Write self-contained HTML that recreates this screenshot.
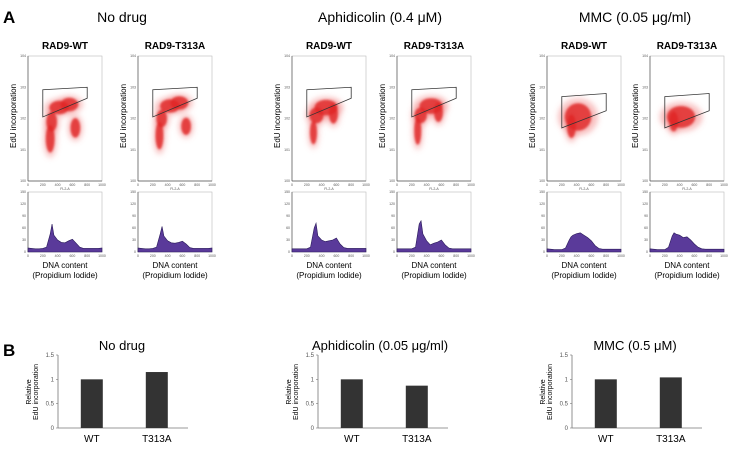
<!DOCTYPE html>
<html><head><meta charset="utf-8"><style>
html,body{margin:0;padding:0;background:#fff;width:730px;height:450px;overflow:hidden}
svg{display:block;font-family:"Liberation Sans",sans-serif}
</style></head><body>
<svg id="fig" width="730" height="450" viewBox="0 0 730 450">
<defs>
<filter id="blur" x="-50%" y="-50%" width="200%" height="200%"><feGaussianBlur stdDeviation="1.1"/></filter>
<filter id="halo" x="-80%" y="-80%" width="260%" height="260%"><feGaussianBlur stdDeviation="3"/></filter>
</defs>
<text x="3" y="23" font-size="17" font-weight="bold">A</text>
<text x="3" y="356" font-size="17" font-weight="bold">B</text>
</svg>
<script>
// ---------- Panel A data ----------
const groupTitles = ["No drug", "Aphidicolin (0.4 \u03bcM)", "MMC (0.05 \u03bcg/ml)"];
const sampleTitles = ["RAD9-WT", "RAD9-T313A"];
// cluster data per plot: [DNA content, log10 EdU, spreadDNA, spreadLog]
const clustersNoDrugWT = [[300,1.35,50,0.35],[320,1.9,60,0.25],[420,2.35,110,0.17],[560,2.45,100,0.17],[640,1.7,55,0.25]];
const clustersNoDrugT = [[290,1.45,45,0.35],[320,2.0,60,0.22],[430,2.4,110,0.17],[560,2.5,100,0.17],[650,1.75,55,0.22]];
const clustersAphWT = [[290,1.55,40,0.3],[330,2.1,80,0.2],[460,2.35,130,0.2],[560,2.15,50,0.25]];
const clustersAphT = [[280,1.6,40,0.35],[320,2.1,70,0.2],[460,2.4,130,0.2],[560,2.2,50,0.25]];
const clustersMmcWT = [[330,1.75,50,0.3],[420,2.05,150,0.35]];
const clustersMmcT = [[320,1.9,50,0.25],[420,2.05,160,0.28]];
// histogram bins: counts at DNA = 0,50,...,1000 (axis max 150)
const histDNA = [0,50,100,150,200,250,300,325,350,400,450,500,550,600,650,700,750,800,850,900,950,1000];
const histNoDrugWT = [10,9,8,8,9,12,45,70,42,30,24,23,28,32,22,12,9,9,9,9,9,10];
const histNoDrugT = [10,9,8,8,9,12,45,64,40,28,23,22,24,27,20,11,9,9,9,9,9,10];
const histAphWT = [8,8,8,8,8,12,60,72,40,30,26,28,30,35,20,11,9,9,9,9,9,9];
const histAphT = [8,8,8,8,8,12,70,78,45,28,18,22,25,30,18,10,8,8,8,8,8,8];
const histMmcWT = [8,7,6,6,6,10,30,38,42,46,48,42,36,28,16,9,7,7,7,7,7,7];
const histMmcT = [8,7,6,6,6,12,40,48,45,42,36,38,30,20,12,8,7,7,7,7,7,7];
// gates: [DNA, log10 EdU]
const gate = [[200,2.92],[800,3.0],[800,2.65],[200,2.05]];
const gateMmc = [[200,2.7],[800,2.8],[800,2.25],[200,1.7]];

// ---------- Panel B data ----------
const barTitles = ["No drug", "Aphidicolin (0.05 \u03bcg/ml)", "MMC (0.5 \u03bcM)"];
const barCategories = ["WT", "T313A"];
const barNoDrug = [1.0, 1.15];
const barAph = [1.0, 0.87];
const barMmc = [1.0, 1.04];
const barTicks = [0, 0.5, 1, 1.5];
const barTickLabels = ["0", "0.5", "1", "1.5"];

const NS = "http://www.w3.org/2000/svg";
const svg = document.getElementById("fig");
function mk(tag, attrs, parent, text){
  const e = document.createElementNS(NS, tag);
  for (const k in attrs) e.setAttribute(k, attrs[k]);
  if (text !== undefined) e.textContent = text;
  (parent || svg).appendChild(e);
  return e;
}

const plotX = [[28,138],[292,397],[547,650]];
const clusterSets = [[clustersNoDrugWT, clustersNoDrugT],[clustersAphWT, clustersAphT],[clustersMmcWT, clustersMmcT]];
const histSets = [[histNoDrugWT, histNoDrugT],[histAphWT, histAphT],[histMmcWT, histMmcT]];
const gateSets = [gate, gate, gateMmc];
const groupCenters = [122, 380, 635];
const W = 74, sTop = 56, sH = 125, hTop = 192, hH = 60;

groupTitles.forEach((t, g) => {
  const tt = mk("text", {x: groupCenters[g], y: 22, "font-size": 14, "text-anchor": "middle"}, svg, t);
  
  
  for (let s = 0; s < 2; s++) {
    const x0 = plotX[g][s];
    const xs = d => x0 + d / 1000 * W;
    const ys = l => sTop + sH - l / 4 * sH;
    const hy = c => hTop + hH - c / 150 * hH;
    const grp = mk("g", {});
    
    
    const st = mk("text", {x: x0 + W/2, y: 49, "font-size": 10, "font-weight": "bold", "text-anchor": "middle"}, grp, sampleTitles[s]);
    
    
    const fr = mk("rect", {x: x0, y: sTop, width: W, height: sH, fill: "none", stroke: "#bbb", "stroke-width": 0.6}, grp);
    
    
    mk("line", {x1: x0, y1: sTop, x2: x0, y2: sTop + sH, stroke: "#555", "stroke-width": 0.7}, grp);
    mk("line", {x1: x0, y1: sTop + sH, x2: x0 + W, y2: sTop + sH, stroke: "#555", "stroke-width": 0.7}, grp);
    // halo of sparse events
    const hg = mk("g", {filter: "url(#halo)"}, grp);
    clusterSets[g][s].forEach(c => {
      mk("ellipse", {cx: xs(c[0]), cy: ys(c[1]), rx: c[2] / 1000 * W * 1.8, ry: c[3] / 4 * sH * 1.7, fill: "#f07070", opacity: 0.45}, hg);
    });
    const cg = mk("g", {filter: "url(#blur)"}, grp);
    clusterSets[g][s].forEach(c => {
      const el = mk("ellipse", {cx: xs(c[0]), cy: ys(c[1]), rx: c[2] / 1000 * W * 1.2, ry: c[3] / 4 * sH * 1.25, fill: "#e02828", opacity: 0.85}, cg);
      
      
    });
    const gp = mk("polygon", {points: gateSets[g].map(p => xs(p[0]) + "," + ys(p[1])).join(" "), fill: "none", stroke: "#333", "stroke-width": 0.8}, grp);
    
    
    [0,200,400,600,800,1000].forEach(v => {
      mk("text", {x: xs(v), y: sTop + sH + 5, "font-size": 3.5, fill: "#555", "text-anchor": "middle"}, grp, v);
      mk("text", {x: xs(v), y: hTop + hH + 5, "font-size": 3.5, fill: "#555", "text-anchor": "middle"}, grp, v);
    });
    mk("text", {x: x0 + W/2, y: sTop + sH + 9, "font-size": 3.5, fill: "#555", "text-anchor": "middle"}, grp, "FL2-A");
    [0,1,2,3,4].forEach(v => {
      mk("text", {x: x0 - 2, y: ys(v) + 1, "font-size": 3.5, fill: "#555", "text-anchor": "end"}, grp, "10" + v);
    });
    const yl = mk("text", {x: 0, y: 0, "font-size": 8, "text-anchor": "middle", transform: `translate(${x0 - 12},${sTop + 60}) rotate(-90)`}, grp, "EdU incorporation");
    
    
    mk("rect", {x: x0, y: hTop, width: W, height: hH, fill: "none", stroke: "#bbb", "stroke-width": 0.6}, grp);
    mk("line", {x1: x0, y1: hTop, x2: x0, y2: hTop + hH, stroke: "#555", "stroke-width": 0.7}, grp);
    const h = histSets[g][s];
    let d = `M${xs(histDNA[0])},${hy(0)}`;
    histDNA.forEach((v, i) => { d += ` L${xs(v)},${hy(h[i])}`; });
    d += ` L${xs(1000)},${hy(0)} Z`;
    const hp = mk("path", {d: d, fill: "#5a3a9a", stroke: "#2a1a5a", "stroke-width": 0.6}, grp);
    
    
    [0,30,60,90,120,150].forEach(v => mk("text", {x: x0 - 2, y: hy(v) + 1, "font-size": 3.5, fill: "#555", "text-anchor": "end"}, grp, v));
    const xl1 = mk("text", {x: x0 + W/2, y: 268, "font-size": 8, "text-anchor": "middle"}, grp, "DNA content");
    
    
    mk("text", {x: x0 + W/2, y: 278, "font-size": 8, "text-anchor": "middle"}, grp, "(Propidium Iodide)");
  }
});

// ---------- Panel B ----------
const barSets = [barNoDrug, barAph, barMmc];
const barAxisX = [58, 318, 572];
const barTitleX = [122, 380, 635];
const bTop = 355, bH = 73, bW = 130, barW = 22;
barSets.forEach((vals, g) => {
  const x0 = barAxisX[g];
  const by = v => bTop + bH - v / 1.5 * bH;
  const grp = mk("g", {});
  
  
  const t = mk("text", {x: barTitleX[g], y: 350, "font-size": 13, "text-anchor": "middle"}, grp, barTitles[g]);
  
  
  mk("line", {x1: x0, y1: bTop, x2: x0, y2: bTop + bH, stroke: "#777", "stroke-width": 0.8}, grp);
  mk("line", {x1: x0, y1: bTop + bH, x2: x0 + bW, y2: bTop + bH, stroke: "#777", "stroke-width": 0.8}, grp);
  barTicks.forEach((v, i) => {
    mk("line", {x1: x0 - 2, y1: by(v), x2: x0, y2: by(v), stroke: "#777", "stroke-width": 0.6}, grp);
    mk("text", {x: x0 - 4, y: by(v) + 2, "font-size": 6, fill: "#555", "text-anchor": "end"}, grp, barTickLabels[i]);
  });
  const l1 = mk("text", {x: 0, y: 0, "font-size": 7, "text-anchor": "middle", transform: `translate(${x0 - 27},${bTop + 37}) rotate(-90)`}, grp, "Relative");
  
  
  mk("text", {x: 0, y: 0, "font-size": 7, "text-anchor": "middle", transform: `translate(${x0 - 20},${bTop + 37}) rotate(-90)`}, grp, "EdU incorporation");
  vals.forEach((v, i) => {
    const cx = x0 + bW * (i === 0 ? 0.26 : 0.76);
    const r = mk("rect", {x: cx - barW/2, y: by(v), width: barW, height: by(0) - by(v), fill: "#333"}, grp);
    
    
    const lb = mk("text", {x: cx, y: 442, "font-size": 10, "text-anchor": "middle"}, grp, barCategories[i]);
    
    
  });
});
</script>
</body></html>
